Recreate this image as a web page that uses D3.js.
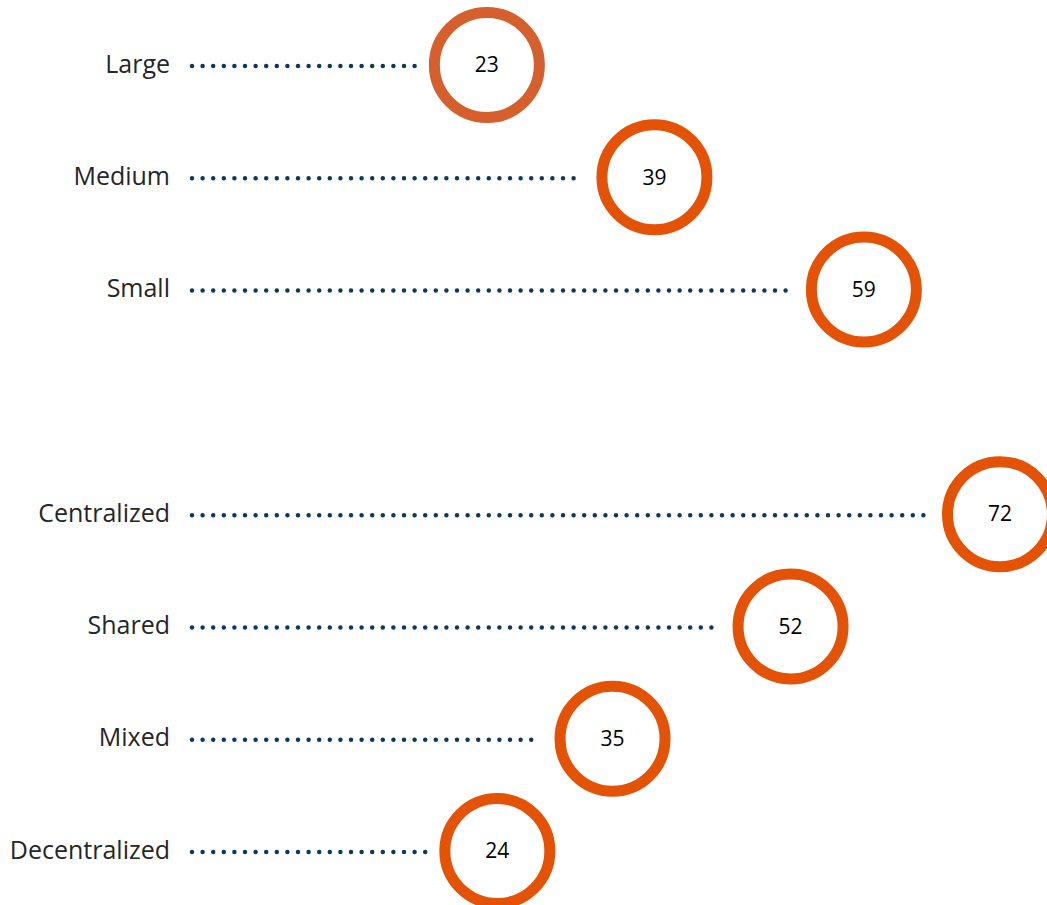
<!DOCTYPE html>
<html>
<head>
<meta charset="utf-8">
<script src="https://cdn.jsdelivr.net/npm/d3@7"></script>
<style>
  html, body { margin: 0; padding: 0; background: #ffffff; }
  svg { display: block; }
</style>
</head>
<body>
<svg id="chart" width="1047" height="905"></svg>
<script>
// Organisation size group
const sizeCategories = ["Large", "Medium", "Small"];
const sizeValues = [23, 39, 59];

// Operating model group
const modelCategories = ["Centralized", "Shared", "Mixed", "Decentralized"];
const modelValues = [72, 52, 35, 24];

const rows = [
  ...sizeCategories.map((c, i) => ({ category: c, value: sizeValues[i], group: "size" })),
  ...modelCategories.map((c, i) => ({ category: c, value: modelValues[i], group: "model" }))
];

const width = 1047, height = 905;
const svg = d3.select("#chart");

// one empty slot separates the two groups
const yDomain = [...sizeCategories, "__gap__", ...modelCategories];
const y = d3.scalePoint().domain(yDomain).range([65, 851]);
const x = d3.scaleLinear().domain([0, 72]).range([246, 1000]);

const lineStart = 192;
const radius = 52.5;
const ringWidth = 11;
const gapBeforeRing = 13;

const g = svg.append("g");

// category labels
g.selectAll("text.label")
  .data(rows)
  .join("text")
  .attr("class", "label")
  .attr("x", 170)
  .attr("y", d => y(d.category))
  .attr("dy", "0.3em")
  .attr("text-anchor", "end")
  .attr("font-family", "'Open Sans', 'Noto Sans', sans-serif")
  .attr("font-size", 25)
  .attr("fill", "#262626")
  .text(d => d.category);

// dotted leader lines
g.selectAll("line.leader")
  .data(rows)
  .join("line")
  .attr("class", "leader")
  .attr("x1", lineStart)
  .attr("x2", d => x(d.value) - radius - ringWidth / 2 - gapBeforeRing)
  .attr("y1", d => y(d.category) + 1)
  .attr("y2", d => y(d.category) + 1)
  .attr("stroke", "#0b3a5c")
  .attr("stroke-width", 4.5)
  .attr("stroke-linecap", "round")
  .attr("stroke-dasharray", "0 10.6");

// value rings
g.selectAll("circle.ring")
  .data(rows)
  .join("circle")
  .attr("class", "ring")
  .attr("cx", d => x(d.value))
  .attr("cy", d => y(d.category))
  .attr("r", radius)
  .attr("fill", "#ffffff")
  .attr("stroke", d => d.category === "Large" ? "#d65f2e" : "#e35205")
  .attr("stroke-width", ringWidth);

// values inside rings
g.selectAll("text.value")
  .data(rows)
  .join("text")
  .attr("class", "value")
  .attr("x", d => x(d.value))
  .attr("y", d => y(d.category))
  .attr("dy", "0.35em")
  .attr("text-anchor", "middle")
  .attr("font-family", "'Open Sans', 'Noto Sans', sans-serif")
  .attr("font-size", 21)
  .attr("fill", "#000000")
  .text(d => d.value);
</script>
</body>
</html>
